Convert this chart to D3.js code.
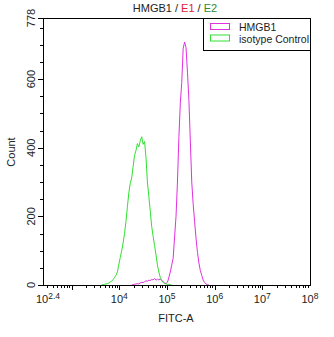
<!DOCTYPE html>
<html>
<head>
<meta charset="utf-8">
<script src="https://cdn.jsdelivr.net/npm/d3@7"></script>
<style>
body { margin: 0; background: #fff; }
text { font-family: "Liberation Sans", Arial, sans-serif; fill: #222; }
</style>
</head>
<body>
<svg id="chart" width="334" height="337"></svg>
<script>
// exponents (log10 of FITC-A) for each histogram bin
var exps = [3.60,3.63,3.66,3.69,3.72,3.75,3.78,3.81,3.84,3.87,
            3.90,3.93,3.96,3.99,4.02,4.05,4.08,4.11,4.14,4.17,
            4.20,4.23,4.26,4.29,4.32,4.35,4.38,4.41,4.44,4.47,
            4.50,4.53,4.56,4.59,4.62,4.65,4.68,4.71,4.74,4.77,
            4.80,4.83,4.86,4.89,4.92,4.95,4.98,5.01,5.04,5.07,
            5.10,5.13,5.16,5.19,5.22,5.25,5.28,5.31,5.34,5.37,
            5.40,5.43,5.46,5.49,5.52,5.55,5.58,5.61,5.64,5.67,
            5.70,5.73,5.76,5.79,5.82,5.85,5.88];

var isotype = [null,0,1,2,3,4,6,9,11,16,
               22,28,38,60,80,100,122,150,185,228,
               268,296,312,345,378,392,412,402,420,432,
               410,418,372,300,258,215,170,142,115,88,
               58,38,22,12,7,5,3,2,2,1,
               0,null,null,null,null,null,null,null,null,null,
               null,null,null,null,null,null,null,null,null,null,
               null,null,null,null,null,null,null];

var hmgb1 = [null,null,null,null,null,null,null,null,null,null,
             null,null,null,null,null,null,null,null,null,null,
             null,null,0,1,2,3,4,3,6,8,
             7,10,12,11,14,13,16,15,19,14,
             17,15,18,13,10,6,4,8,22,38,
             58,78,140,200,300,430,530,590,690,708,
             692,620,540,420,300,235,185,135,95,64,
             42,28,14,7,3,1,0];

var seriesNames = ["HMGB1", "isotype Control"];
var seriesColors = ["#e030e0", "#30e030"];
var yTicks = [0, 200, 400, 600, 778];
var xLabelExps = ["2.4", "4", "5", "6", "7", "8"];

var pLeft = 43, pTop = 18, pRight = 310, pBottom = 285;
var svg = d3.select("#chart");

var x = d3.scaleLog().domain([Math.pow(10, 2.4), 1e8]).range([pLeft, pRight]);
var y = d3.scaleLinear().domain([0, 778]).range([pBottom, pTop]);

function isDecade(v) {
    var l = Math.log10(v);
    return Math.abs(l - Math.round(l)) < 1e-9;
}

// x ticks (decades long, 2..9 short)
var minorX = [];
for (var k = 2; k < 8; k++) {
    for (var m = 1; m < 10; m++) {
        var v = m * Math.pow(10, k);
        if (v > x.domain()[0] && v < 1e8) minorX.push(v);
    }
}
svg.selectAll(".xt").data(minorX).enter().append("line")
    .attr("x1", d => Math.round(x(d)) + 0.5).attr("x2", d => Math.round(x(d)) + 0.5)
    .attr("y1", pBottom).attr("y2", d => pBottom + (isDecade(d) ? 5 : 3))
    .attr("stroke", "#000");

var minorY = d3.range(0, 778, 50);
svg.selectAll(".yt").data(minorY.concat([778])).enter().append("line")
    .attr("y1", d => Math.round(y(d)) + 0.5).attr("y2", d => Math.round(y(d)) + 0.5)
    .attr("x1", pLeft).attr("x2", d => pLeft - (yTicks.indexOf(d) >= 0 ? 5 : 3))
    .attr("stroke", "#000");

// y tick labels (rotated)
svg.selectAll(".yl").data(yTicks).enter().append("text")
    .attr("transform", d => "translate(35," + y(d) + ") rotate(-90)")
    .attr("text-anchor", "middle")
    .style("font-size", "11px")
    .text(d => d);

// x tick labels 10^n
svg.selectAll(".xl").data(xLabelExps).enter().append("text")
    .attr("x", d => x(Math.pow(10, +d)) + (d == "2.4" ? 5 : 0))
    .attr("y", 303)
    .attr("text-anchor", "middle")
    .style("font-size", "11px")
    .each(function(d) {
        var t = d3.select(this);
        t.append("tspan").text("10");
        t.append("tspan").attr("dy", -4).style("font-size", "8.5px").text(d);
    });

// histogram lines
var line = d3.line()
    .defined(d => d[1] !== null)
    .x(d => x(Math.pow(10, d[0])))
    .y(d => y(d[1]));

var series = [hmgb1, isotype];
series.forEach(function(s, i) {
    var pts = exps.map((e, j) => [e, s[j]]);
    svg.append("path")
        .datum(pts)
        .attr("fill", "none")
        .attr("stroke", seriesColors[i])
        .attr("stroke-width", 1)
        .attr("d", line);
});

// frame
svg.append("rect")
    .attr("x", pLeft + 0.5).attr("y", pTop + 0.5)
    .attr("width", pRight - pLeft).attr("height", pBottom - pTop)
    .attr("fill", "none").attr("stroke", "#000");

// legend
svg.append("rect")
    .attr("x", 203.5).attr("y", pTop + 0.5)
    .attr("width", pRight - 203).attr("height", 32)
    .attr("fill", "#fff").attr("stroke", "#000");
seriesNames.forEach(function(n, i) {
    svg.append("rect")
        .attr("x", 210.5).attr("y", 23.5 + i * 11.5)
        .attr("width", 19).attr("height", 6)
        .attr("fill", "none").attr("stroke", seriesColors[i]);
    svg.append("text")
        .attr("x", 239).attr("y", 31 + i * 12)
        .style("font-size", "10.5px")
        .text(n);
});

// title
var title = svg.append("text")
    .attr("x", 175).attr("y", 12)
    .attr("text-anchor", "middle")
    .style("font-size", "11px");
title.append("tspan").text("HMGB1 / ");
title.append("tspan").style("fill", "#e0203a").text("E1");
title.append("tspan").text(" / ");
title.append("tspan").style("fill", "#2e8b2e").text("E2");

// axis titles
svg.append("text")
    .attr("x", 176).attr("y", 322)
    .attr("text-anchor", "middle")
    .style("font-size", "11px")
    .text("FITC-A");
svg.append("text")
    .attr("transform", "translate(15,152) rotate(-90)")
    .attr("text-anchor", "middle")
    .style("font-size", "11px")
    .text("Count");
</script>
</body>
</html>
